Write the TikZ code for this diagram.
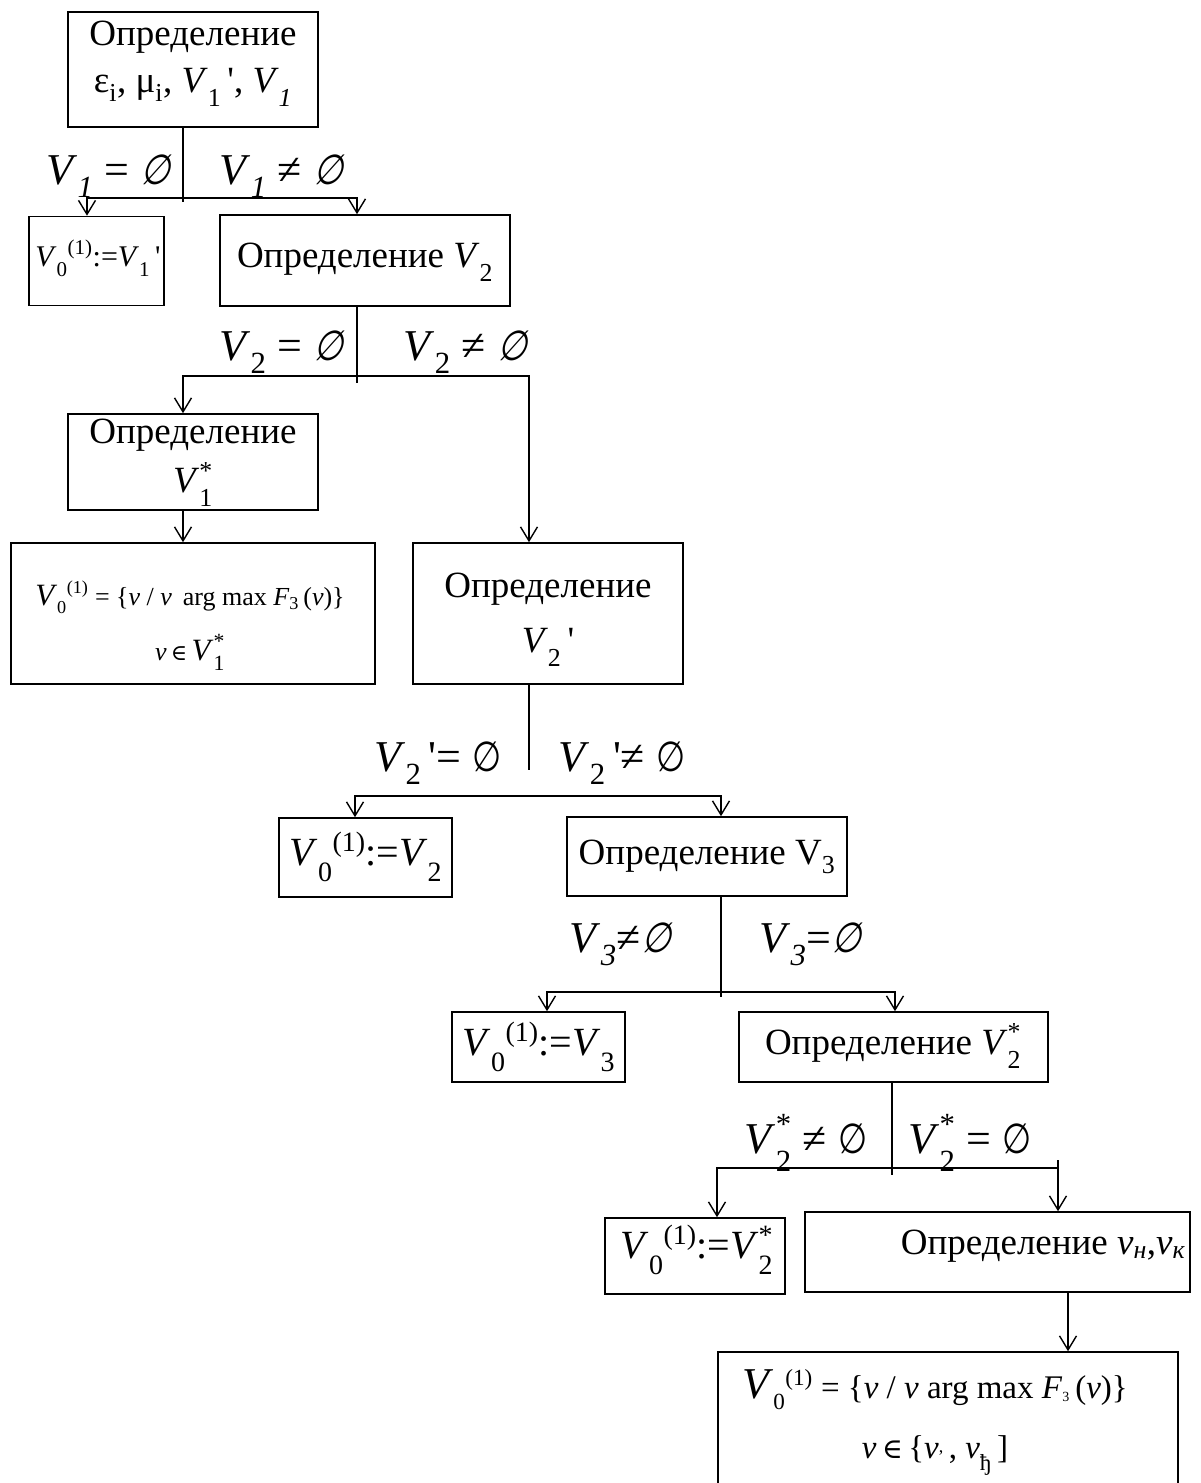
\documentclass[tikz,border=0pt]{standalone}
\usepackage{fontspec}
\setmainfont{Liberation Serif}
\newfontfamily\rawserif[Ligatures=ResetAll]{Liberation Serif}
\newfontfamily\djs[Scale=0.85]{DejaVu Serif}
\newfontfamily\djes[Scale=0.95,FakeStretch=0.8]{DejaVu Sans}
\newfontfamily\djesi[Scale=0.95,FakeStretch=0.8,FakeSlant=0.25]{DejaVu Sans}
\usetikzlibrary{arrows.meta}
\newcommand\Vi{\textit{V}}
\newcommand\es{{\djes ∅}}
\newcommand\esi{{\djesi ∅}}
\newcommand\inn{{\djs ∈}}
\newcommand\pr{{\rawserif\,'}}
\newcommand\fs[2]{\fontsize{#1}{#2}\selectfont}
\newcommand\sbx[1]{\raisebox{-0.14em}{\textsubscript{#1}}}
\newcommand\sbl[1]{\raisebox{-0.02em}{\textsubscript{#1}}}
\newcommand\spx[1]{\raisebox{0.12em}{\textsuperscript{#1}}}
\newcommand\spl[1]{\raisebox{0.22em}{\textsuperscript{#1}}}
\newcommand\ssb[3]{#1\rlap{\spx{#2}}\sbx{#3}}
\newcommand\ssl[3]{#1\rlap{\spl{#2}}\sbx{#3}}
\begin{document}
\begin{tikzpicture}[x=1pt,y=-1pt,line width=1.5pt,
  box/.style={draw,line width=1.6pt,inner sep=0pt},
  txt/.style={inner sep=0pt,align=center},
  arr/.style={-{Straight Barb[length=14pt,width=17pt,line width=1.4pt]}}]
\useasboundingbox (0,0) rectangle (1201,1483);

% ---------- boxes ----------
\node[box,minimum width=250pt,minimum height=115pt] (b1) at (193,69.5) {};
\node[txt,font=\fs{37}{47}] (t1) at (193,64) {Определение\\ε\textsubscript{i}, μ\textsubscript{i}, \Vi\sbx{1}\pr, \Vi\sbx{\textit{1}}};

\node[box,minimum width=135pt,minimum height=89pt] (b2a) at (96.5,261) {};
\node[txt,font=\fs{30}{36}] (t2a) at (98,258) {\Vi\sbx{0}\spx{(1)}:=\Vi\sbx{1}\pr};

\node[box,minimum width=290pt,minimum height=91pt] (b2b) at (365,260.5) {};
\node[txt,font=\fs{37}{46}] (t2b) at (365,262) {Определение \Vi\sbx{2}};

\node[box,minimum width=250pt,minimum height=96pt] (b3a) at (193,462) {};
\node[txt,font=\fs{37}{49}] (t3a) at (193,463) {Определение\\\ssb{\Vi}{*}{1}};

\node[box,minimum width=364pt,minimum height=141pt] (b4a) at (193,613.5) {};
\node[txt,font=\fs{26}{55}] (t4a) at (190,626) {{\fs{31}{36}\Vi}\sbx{0}\spx{(1)} = \{\textit{v} / \textit{v}\, arg max \textit{F}\textsubscript{3}\,(\textit{v})\}\\\textit{v}\,\inn\,{\fs{31}{36}\ssb{\Vi}{*}{1}}};

\node[box,minimum width=270pt,minimum height=141pt] (b4b) at (548,613.5) {};
\node[txt,font=\fs{37}{55}] (t4b) at (548,620) {Определение\\\Vi\sbx{2}\pr};

\node[box,minimum width=173pt,minimum height=79pt] (b5a) at (365.5,857.5) {};
\node[txt,font=\fs{40}{48}] (t5a) at (366,857) {\Vi\sbx{0}\spx{(1)}:=\Vi\sbx{2}};

\node[box,minimum width=280pt,minimum height=79pt] (b5b) at (707,856.5) {};
\node[txt,font=\fs{37}{46}] (t5b) at (707,857) {Определение V\textsubscript{3}};

\node[box,minimum width=173pt,minimum height=70pt] (b6a) at (538.5,1047) {};
\node[txt,font=\fs{40}{48}] (t6a) at (539,1047) {\Vi\sbx{0}\spx{(1)}:=\Vi\sbx{3}};

\node[box,minimum width=309pt,minimum height=70pt] (b6b) at (893.5,1047) {};
\node[txt,font=\fs{37}{46}] (t6b) at (893,1046) {Определение \ssb{\Vi}{*}{2}};

\node[box,minimum width=180pt,minimum height=76pt] (b7a) at (695,1256) {};
\node[txt,font=\fs{40}{48}] (t7a) at (697,1250) {\Vi\sbx{0}\spx{(1)}:=\ssb{\Vi}{*}{2}};

\node[box,minimum width=385pt,minimum height=80pt] (b7b) at (997.5,1252) {};
\node[txt,font=\fs{37}{46}] (t7b) at (1043,1246) {Определение \textit{v\textsubscript{н}},\textit{v\textsubscript{к}}};

\node[box,minimum width=460pt,minimum height=148pt] (b8) at (948,1426) {};
\node[txt,font=\fs{33}{60}] (t8) at (935,1422) {{\fs{44}{50}\Vi}\sbx{0}\spx{(1)} = \{\textit{v} / \textit{v} arg max \textit{F}{\fs{20}{24}\textsubscript{3}}\,(\textit{v})\}\\\textit{v}\,\inn\,\{\textit{v}\raisebox{6pt}{\fs{18}{20},}\,, \textit{v}\sbx{ђ}\,]};

% ---------- labels ----------
\begin{scope}[every node/.style={txt,font=\fs{44}{50}}]
\node (l1a) at (108,176) {\Vi\sbl{\textit{1}} = \esi};
\node (l1b) at (281,176) {\Vi\sbl{\textit{1}} ≠ \esi};
\node (l2a) at (281,352) {\Vi\sbl{2} = \esi};
\node (l2b) at (465,352) {\Vi\sbl{2} ≠ \esi};
\node (l3a) at (438,763) {\Vi\sbl{2}\pr= \es};
\node (l3b) at (622,763) {\Vi\sbl{2}\pr≠ \es};
\node (l4a) at (620,944) {\Vi\sbl{\textit{3}}≠\esi};
\node (l4b) at (810,944) {\Vi\sbl{\textit{3}}=\esi};
\node (l5a) at (806,1143) {\ssl{\Vi}{*}{2} ≠ \es};
\node (l5b) at (970,1143) {\ssl{\Vi}{*}{2} = \es};
\end{scope}

% ---------- connectors ----------
\coordinate (j1) at (183,198);
\coordinate (s1) at (183,202);
\draw (b1.south -| s1) -- (s1);
\draw[arr] (j1) -| ([xshift=-9.5pt]b2a.north);
\draw[arr] (j1) -| ([xshift=-8pt]b2b.north);

\coordinate (j2) at (357,376);
\coordinate (s2) at (357,383);
\draw (b2b.south -| s2) -- (s2);
\draw[arr] (j2) -| ([xshift=-10pt]b3a.north);
\draw[arr] (j2) -| ([xshift=-19pt]b4b.north);
\draw[arr] ([xshift=-10pt]b3a.south) -- ([xshift=-10pt]b4a.north);

\coordinate (s3) at (529,770);
\coordinate (j3) at (529,796);
\draw ([xshift=-19pt]b4b.south) -- (s3);
\draw[arr] (j3) -| ([xshift=-10.5pt]b5a.north);
\draw[arr] (j3) -| ([xshift=14pt]b5b.north);

\coordinate (j4) at (721,992);
\coordinate (s4) at (721,997);
\draw ([xshift=14pt]b5b.south) -- (s4);
\draw[arr] (j4) -| ([xshift=8.5pt]b6a.north);
\draw[arr] (j4) -| ([xshift=1.5pt]b6b.north);

\coordinate (j5) at (892,1168);
\coordinate (s5) at (892,1175);
\coordinate (k5) at (1058,1160);
\draw ([xshift=-1.5pt]b6b.south) -- (s5);
\draw[arr] (j5) -| ([xshift=22pt]b7a.north);
\draw (j5) -- (j5 -| k5);
\draw[arr] (k5) -- ([xshift=60.5pt]b7b.north);

\draw[arr] ([xshift=70.5pt]b7b.south) -- ([xshift=120pt]b8.north);
\end{tikzpicture}
\end{document}
